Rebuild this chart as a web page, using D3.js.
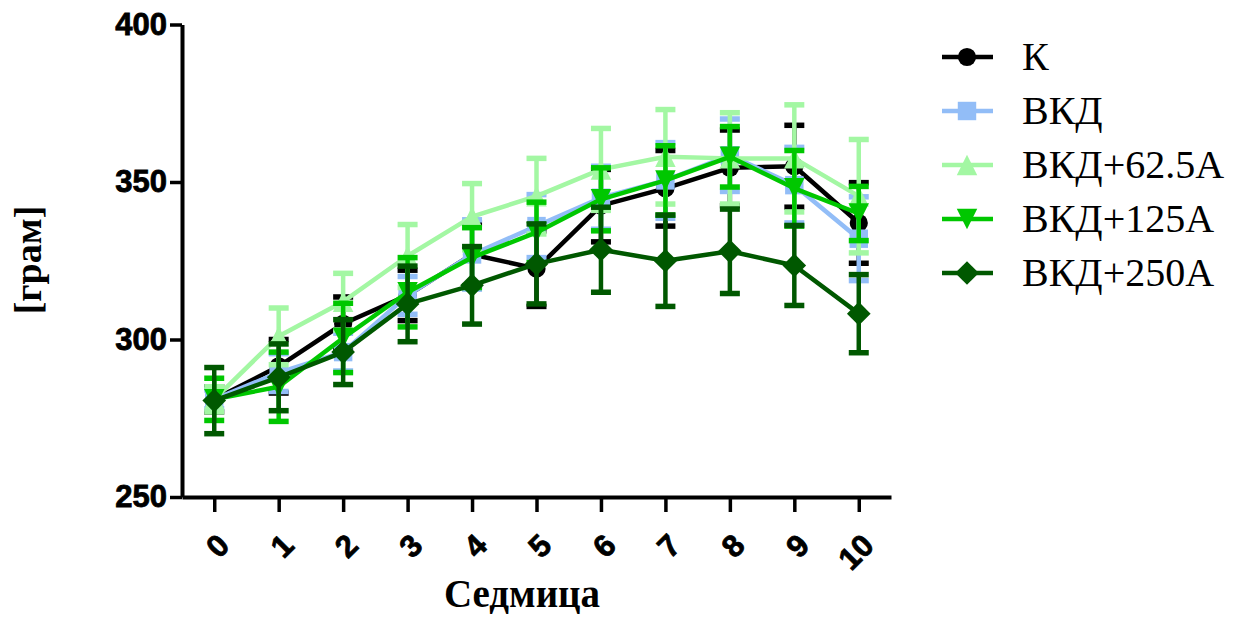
<!DOCTYPE html>
<html>
<head>
<meta charset="utf-8">
<script src="https://cdn.jsdelivr.net/npm/d3@7"></script>
<style>
  html, body { margin: 0; padding: 0; background: #fff; }
  svg { display: block; }
</style>
</head>
<body>
<svg id="chart" width="1238" height="620"></svg>
<script>
// Body weight by week, mean ± SD for each group
const weeks = [0, 1, 2, 3, 4, 5, 6, 7, 8, 9, 10];
const groupNames = ["К", "ВКД", "ВКД+62.5А", "ВКД+125А", "ВКД+250А"];
const groupColors = ["#000000", "#92bdf7", "#a3f7a3", "#00c700", "#005800"];

const meanK      = [281, 291.5, 305, 314, 327, 322.5, 342.5, 348, 354.5, 355, 337];
const sdK        = [4, 8.5, 8.5, 8, 10, 12, 11.5, 12, 12, 13, 12.8];
const meanVKD    = [281, 289.5, 296, 314, 327, 336, 345, 350.5, 358.5, 349, 332];
const sdVKD      = [3, 6, 6, 6, 11, 10, 10, 12, 11.5, 12, 13.3];
const mean625    = [281, 301, 312, 326.5, 339, 345.5, 354, 358, 357.5, 357.5, 345.5];
const sd625      = [4, 9, 9, 10, 10.5, 12, 13, 15, 14.5, 17, 18];
const mean125    = [281, 285, 300.5, 315, 326, 334, 344.5, 350.5, 358, 348, 340];
const sd125      = [6.7, 11, 11, 11, 9.5, 9.6, 10, 11, 9.6, 12, 8.6];
const mean250    = [280.6, 288, 296, 311.3, 317.2, 324, 328.5, 325, 328, 323.5, 308.2];
const sd250      = [10.5, 10.6, 10.3, 12, 12.3, 12.7, 13.5, 14.5, 13.4, 12.7, 12.4];

const yTicks = [250, 300, 350, 400];
const xTitle = "Седмица";
const yTitle = "[грам]";

// Marker shapes
const symCircle = { draw(ctx, size) { const r = Math.sqrt(size / Math.PI); ctx.moveTo(r, 0); ctx.arc(0, 0, r, 0, 2 * Math.PI); } };
const symSquare = { draw(ctx, size) { const h = Math.sqrt(size) / 2; ctx.rect(-h, -h, 2 * h, 2 * h); } };
const symTriUp = { draw(ctx, size) { const h = Math.sqrt(size) / 2; ctx.moveTo(0, -h); ctx.lineTo(h, h); ctx.lineTo(-h, h); ctx.closePath(); } };
const symTriDown = { draw(ctx, size) { const h = Math.sqrt(size) / 2; ctx.moveTo(0, h); ctx.lineTo(h, -h); ctx.lineTo(-h, -h); ctx.closePath(); } };
const symDiamond = { draw(ctx, size) { const h = Math.sqrt(size) / 2; ctx.moveTo(0, -h); ctx.lineTo(h, 0); ctx.lineTo(0, h); ctx.lineTo(-h, 0); ctx.closePath(); } };

const groups = [
  { name: groupNames[0], color: groupColors[0], mean: meanK,   sd: sdK,   symbol: symCircle,  size: 260 },
  { name: groupNames[1], color: groupColors[1], mean: meanVKD, sd: sdVKD, symbol: symSquare,  size: 340 },
  { name: groupNames[2], color: groupColors[2], mean: mean625, sd: sd625, symbol: symTriUp,   size: 420 },
  { name: groupNames[3], color: groupColors[3], mean: mean125, sd: sd125, symbol: symTriDown, size: 420 },
  { name: groupNames[4], color: groupColors[4], mean: mean250, sd: sd250, symbol: symDiamond, size: 560 }
];

const svg = d3.select("#chart");

const x = d3.scaleLinear().domain([-0.5, 10.5]).range([182, 891]);
const y = d3.scaleLinear().domain([250, 400]).range([497, 24.5]);

const tickFont = "'Liberation Sans', Arial, sans-serif";

// Axes
const yAxis = svg.append("g")
  .attr("transform", `translate(${x.range()[0]},0)`)
  .call(d3.axisLeft(y).tickValues(yTicks).tickSize(12).tickSizeOuter(0).tickPadding(3));
yAxis.select(".domain").attr("stroke", "#000").attr("stroke-width", 4);
yAxis.selectAll(".tick line").attr("stroke", "#000").attr("stroke-width", 3.5);
yAxis.selectAll(".tick text")
  .attr("font-family", tickFont)
  .attr("font-weight", "bold")
  .attr("font-size", 31)
  .attr("stroke", "#000")
  .attr("stroke-width", 0.8)
  .attr("fill", "#000");

const xAxis = svg.append("g")
  .attr("transform", `translate(0,${y.range()[0]})`)
  .call(d3.axisBottom(x).tickValues(weeks).tickSize(15).tickSizeOuter(0).tickFormat(d3.format("d")));
xAxis.select(".domain").attr("stroke", "#000").attr("stroke-width", 4);
xAxis.selectAll(".tick line").attr("stroke", "#000").attr("stroke-width", 3.5);
xAxis.selectAll(".tick text")
  .attr("font-family", tickFont)
  .attr("font-weight", "bold")
  .attr("font-size", 31)
  .attr("stroke", "#000")
  .attr("stroke-width", 0.8)
  .attr("fill", "#000")
  .attr("text-anchor", "end")
  .attr("dy", null)
  .attr("y", 0)
  .attr("dominant-baseline", "central")
  .attr("transform", "translate(9,43) rotate(-45)");

// Axis titles
svg.append("text")
  .attr("x", 522).attr("y", 607)
  .attr("text-anchor", "middle")
  .attr("font-family", "'Liberation Serif', serif")
  .attr("font-weight", "bold")
  .attr("font-size", 39)
  .text(xTitle);

svg.append("text")
  .attr("transform", "translate(41,260) rotate(-90)")
  .attr("text-anchor", "middle")
  .attr("font-family", "'Liberation Serif', serif")
  .attr("font-weight", "bold")
  .attr("font-size", 38)
  .text(yTitle);

// Series: error bars, line, markers
const line = d3.line().x((d, i) => x(weeks[i])).y(d => y(d));
const capHalf = 10;

groups.forEach(g => {
  const layer = svg.append("g");
  const pts = weeks.map((w, i) => ({ w, m: g.mean[i], s: g.sd[i] }));

  layer.selectAll(".bar").data(pts).join("line")
    .attr("x1", d => x(d.w)).attr("x2", d => x(d.w))
    .attr("y1", d => y(d.m + d.s)).attr("y2", d => y(d.m - d.s))
    .attr("stroke", g.color).attr("stroke-width", 4.5);

  layer.selectAll(".capTop").data(pts).join("line")
    .attr("x1", d => x(d.w) - capHalf).attr("x2", d => x(d.w) + capHalf)
    .attr("y1", d => y(d.m + d.s)).attr("y2", d => y(d.m + d.s))
    .attr("stroke", g.color).attr("stroke-width", 5.5);

  layer.selectAll(".capBot").data(pts).join("line")
    .attr("x1", d => x(d.w) - capHalf).attr("x2", d => x(d.w) + capHalf)
    .attr("y1", d => y(d.m - d.s)).attr("y2", d => y(d.m - d.s))
    .attr("stroke", g.color).attr("stroke-width", 5.5);

  layer.append("path")
    .attr("d", line(g.mean))
    .attr("fill", "none")
    .attr("stroke", g.color)
    .attr("stroke-width", 4.5)
    .attr("stroke-linejoin", "round");

  layer.selectAll(".mark").data(pts).join("path")
    .attr("transform", d => `translate(${x(d.w)},${y(d.m)})`)
    .attr("d", d3.symbol().type(g.symbol).size(g.size))
    .attr("fill", g.color);
});

// Legend
const legend = svg.append("g").attr("transform", "translate(942,57)");
const rowGap = 54;
groups.forEach((g, i) => {
  const row = legend.append("g").attr("transform", `translate(0,${i * rowGap})`);
  row.append("line")
    .attr("x1", 0).attr("x2", 51).attr("y1", 0).attr("y2", 0)
    .attr("stroke", g.color).attr("stroke-width", 4.5);
  row.append("path")
    .attr("transform", "translate(25,0)")
    .attr("d", d3.symbol().type(g.symbol).size(g.size))
    .attr("fill", g.color);
  row.append("text")
    .attr("x", 80).attr("y", 13)
    .attr("font-family", "'Liberation Serif', serif")
    .attr("font-size", 40)
    .attr("fill", "#000")
    .text(g.name);
});
</script>
</body>
</html>
